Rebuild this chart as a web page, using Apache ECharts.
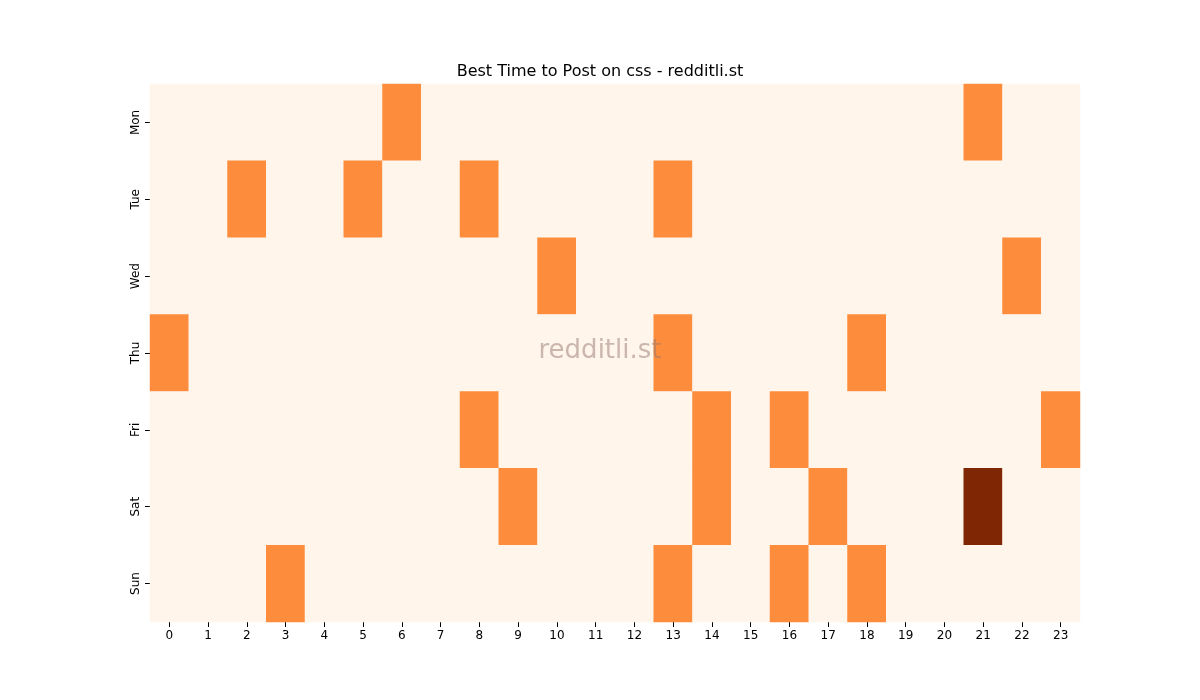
<!DOCTYPE html>
<html><head><meta charset="utf-8">
<script src="https://cdn.jsdelivr.net/npm/echarts@6/dist/echarts.min.js"></script>
<style>html,body{margin:0;padding:0;background:#fff}#c{width:1200px;height:700px}</style>
</head><body><div id="c"></div>
<script>
const hours = ['0','1','2','3','4','5','6','7','8','9','10','11','12','13','14','15','16','17','18','19','20','21','22','23'];
const days = ['Mon','Tue','Wed','Thu','Fri','Sat','Sun'];
const monHot = [6,21];
const tueHot = [2,5,8,13];
const wedHot = [10,22];
const thuHot = [0,13,18];
const friHot = [8,14,16,23];
const satHot = [9,14,17];
const sunHot = [3,13,16,18];
const peak = [[21,5,2]];
const hotByDay = [monHot,tueHot,wedHot,thuHot,friHot,satHot,sunHot];
const data = [];
for (let d=0; d<days.length; d++) for (let h=0; h<hours.length; h++) {
  let v = hotByDay[d].includes(h) ? 1 : 0;
  peak.forEach(p=>{ if(p[0]===h && p[1]===d) v=p[2]; });
  data.push([h,d,v]);
}
const chart = echarts.init(document.getElementById('c'));
const font = 'DejaVu Sans';
chart.setOption({
  animation:false,
  textStyle:{fontFamily:font},
  title:{text:'Best Time to Post on css - redditli.st',left:'center',top:59,textStyle:{fontFamily:font,fontSize:16,fontWeight:'normal',color:'#000'}},
  grid:{left:150,right:120,top:84,bottom:78},
  xAxis:{type:'category',data:hours,axisLine:{show:false},axisTick:{show:true,alignWithLabel:true,length:5,lineStyle:{color:'#000'}},axisLabel:{color:'#000',fontSize:12,fontFamily:font},splitArea:{show:false}},
  yAxis:{type:'category',data:days,inverse:true,axisLine:{show:false},axisTick:{show:true,alignWithLabel:true,length:5,lineStyle:{color:'#000'}},axisLabel:{color:'#000',fontSize:12,rotate:90,fontFamily:font}},
  visualMap:{show:false,min:0,max:2,calculable:false,inRange:{color:['#fff5eb','#fd8d3c','#7f2704']}},
  graphic:[{type:'text',left:'center',top:338,style:{text:'redditli.st',fontSize:26,fontFamily:font,fill:'rgba(150,120,110,0.5)'},z:100}],
  series:[{type:'heatmap',data:data,itemStyle:{borderWidth:0}}]
});
</script></body></html>
